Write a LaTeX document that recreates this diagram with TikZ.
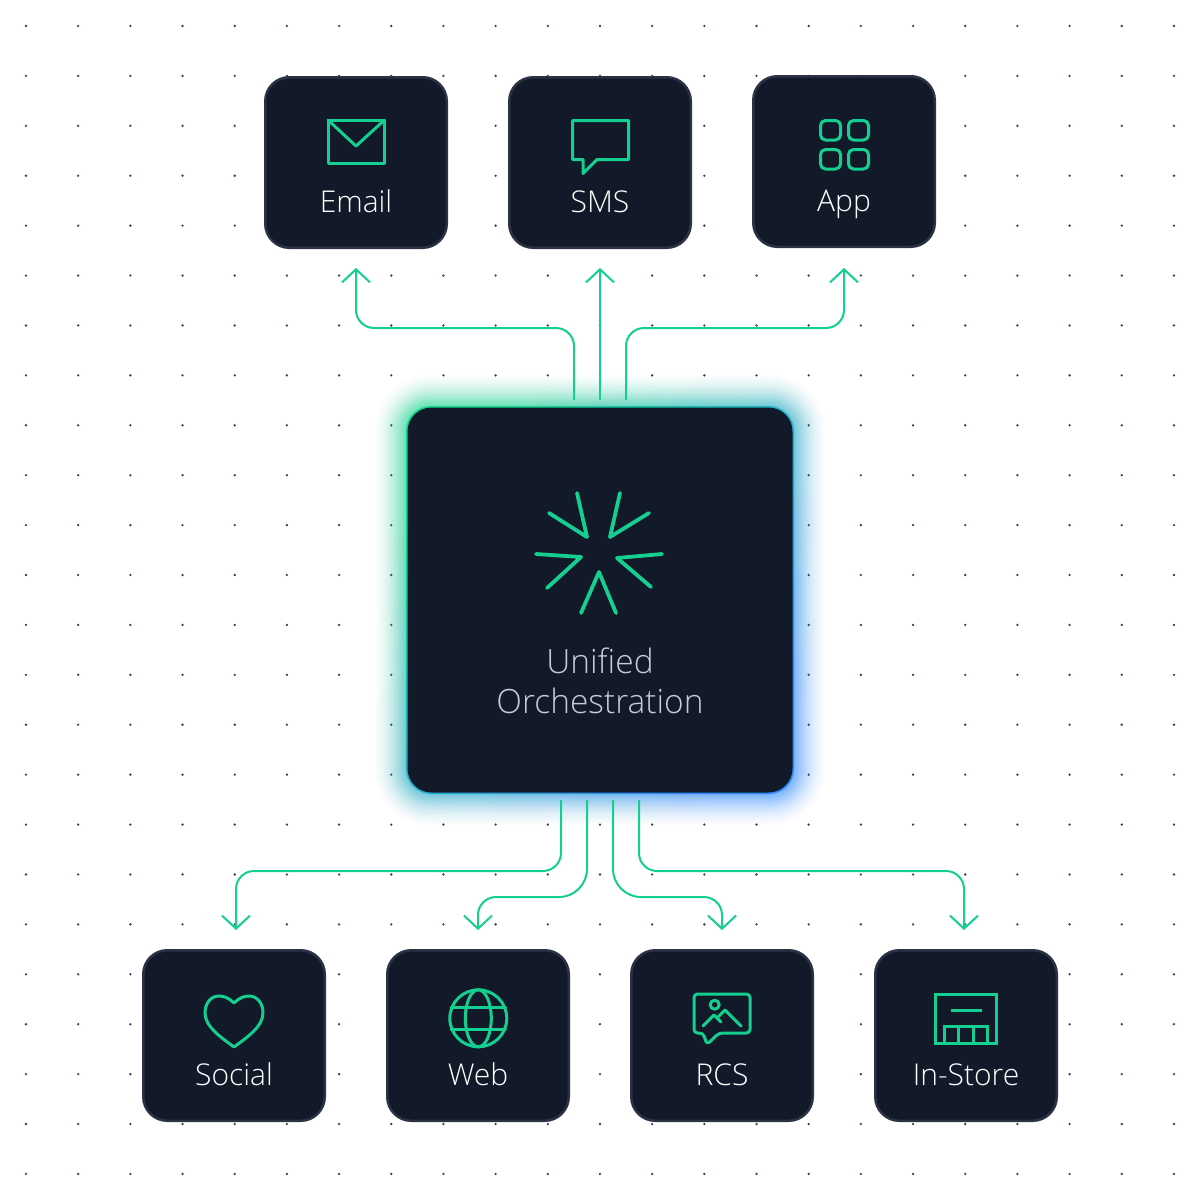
\documentclass[tikz,border=0pt]{standalone}
\usepackage{fontspec}
\setmainfont{Open Sans}[UprightFont=* Light]
\usetikzlibrary{arrows.meta,positioning}
\definecolor{boxdark}{HTML}{121929}
\definecolor{boxrim}{HTML}{2B3244}
\definecolor{flowgreen}{HTML}{14CF90}
\definecolor{glowgreen}{HTML}{14D68F}
\definecolor{glowmid}{HTML}{52CFDC}
\definecolor{glowblue}{HTML}{2E8BFF}
\definecolor{griddot}{HTML}{3C414D}
\definecolor{softtext}{HTML}{C4CAD6}

\begin{document}
\begin{tikzpicture}
	[x=1pt,y=-1pt,
	channel node/.style={shape=rectangle,draw=boxrim,line width=2.5pt,fill=boxdark,rounded corners=24pt,minimum width=181.5pt,minimum height=170.5pt,inner sep=0pt},
	hub node/.style={shape=rectangle,fill=boxdark,rounded corners=24pt,minimum width=385pt,minimum height=385pt,inner sep=0pt},
	channel label/.style={anchor=base,text=white,font=\fontsize{30}{30}\selectfont,inner sep=0pt},
	hub label/.style={anchor=base,text=softtext,font=\fontsize{33.5}{33.5}\selectfont,inner sep=0pt},
	flow/.style={draw=flowgreen,line width=2pt,rounded corners=18pt,-{Straight Barb[length=13pt,width=28pt,line width=2pt]}},
	icon/.style={draw=flowgreen,line width=3pt,line join=round,line cap=round}]
	\useasboundingbox (0,0) rectangle (1200,1200);
	\fill[white] (0,0) rectangle (1200,1200);

	\foreach \i in {0,...,22}
		\foreach \j in {0,...,23}
			\fill[griddot] (26+52.18*\i,26+49.91*\j) circle [radius=1.3];

	\foreach \r/\o in {32/.014,30/.017,28/.02,26/.023,24/.026,22/.032,20/.038,18/.045,16/.052,14/.06,12/.068,10/.08,8/.09,6/.1,4/.11,2/.12}
		\shade[top color=glowgreen,middle color=glowmid,bottom color=glowblue,shading angle=45,fill opacity=\o,rounded corners=24pt+\r pt]
		(407-\r,407-\r) rectangle (793+\r,793+\r);
	\shade[top color=glowgreen,middle color=glowmid,bottom color=glowblue,shading angle=45,rounded corners=25pt]
	(406,406) rectangle (794,794);

	\node [hub node] (hub) at (600,600) {};
	\node [hub label] (hub top) at (600,673) {Unified};
	\node [hub label] (hub bottom) at (600,713) {Orchestration};

	\node [channel node] (email) at (356,162.5) {};
	\node [channel node] (sms) at (600,162.5) {};
	\node [channel node] (app) at (844,161.5) {};
	\node [channel node] (social) at (234,1035.5) {};
	\node [channel node] (web) at (478,1035.5) {};
	\node [channel node] (rcs) at (722,1035.5) {};
	\node [channel node] (store) at (966,1035.5) {};

	\node [channel label] (email label) at (356,212) {Email};
	\node [channel label] (sms label) at (600,212) {SMS};
	\node [channel label] (app label) at (844,211) {App};
	\node [channel label] (social label) at (234,1085) {Social};
	\node [channel label] (web label) at (478,1085) {Web};
	\node [channel label] (rcs label) at (722,1085) {RCS};
	\node [channel label] (store label) at (966,1085) {In-Store};

	\coordinate (out email) at (574,400);
	\coordinate (out sms) at (600,400);
	\coordinate (out app) at (626,400);
	\coordinate (in email) at (356,268);
	\coordinate (in sms) at (600,268);
	\coordinate (in app) at (844,268);
	\coordinate (out social) at (561,800);
	\coordinate (out web) at (587,800);
	\coordinate (out rcs) at (613,800);
	\coordinate (out store) at (639,800);
	\coordinate (in social) at (236,930);
	\coordinate (in web) at (478,930);
	\coordinate (in rcs) at (722,930);
	\coordinate (in store) at (964,930);

	\draw[flow] (out email) -- (574,328) -- (356,328) -- (in email);
	\draw[flow] (out sms) -- (in sms);
	\draw[flow] (out app) -- (626,328) -- (844,328) -- (in app);
	\draw[flow] (out social) -- (561,871) -- (236,871) -- (in social);
	\draw[flow,rounded corners=28pt] (out web) -- (587,897) [rounded corners=18pt] -- (478,897) -- (in web);
	\draw[flow,rounded corners=28pt] (out rcs) -- (613,897) [rounded corners=18pt] -- (722,897) -- (in rcs);
	\draw[flow] (out store) -- (639,871) -- (964,871) -- (in store);

	\draw[icon] (328,120) rectangle (384.5,163);
	\draw[icon] (328,120) -- (356,146) -- (384.5,120);

	\draw[icon] (572.5,120.5) -- (628.5,120.5) -- (628.5,159.5) -- (597,159.5) -- (583,173.5) -- (583,159.5) -- (572.5,159.5) -- cycle;

	\foreach \a/\b in {820.5/120.5,848.5/120.5,820.5/149.5,848.5/149.5}
		\draw[icon,rounded corners=5pt] (\a,\b) rectangle (\a+20,\b+19.5);

	\draw[icon,line width=3.8pt] (577,493) -- (587,537) -- (549,513);
	\draw[icon,line width=3.8pt] (620,493) -- (610,537) -- (649,513);
	\draw[icon,line width=3.8pt] (536,554) -- (581,557) -- (547,588);
	\draw[icon,line width=3.8pt] (662,554) -- (617,558) -- (651,587);
	\draw[icon,line width=3.8pt] (581,613) -- (599,572) -- (616,613);

	\draw[icon] (234,1003) .. controls (229,998) and (224,996) .. (219,996) .. controls (211,996) and (205,1003) .. (205,1013) .. controls (205,1027) and (222,1038) .. (234,1047) .. controls (246,1038) and (263,1027) .. (263,1013) .. controls (263,1003) and (257,996) .. (249,996) .. controls (244,996) and (239,998) .. (234,1003) -- cycle;

	\draw[icon] (478.3,1018.3) circle [radius=28.5];
	\draw[icon] (478.3,1018.3) circle [x radius=13,y radius=28.5];
	\draw[icon] (451,1007.7) -- (505.5,1007.7);
	\draw[icon] (451,1029) -- (505.5,1029);

	\draw[icon,rounded corners=3.5pt] (694,994) -- (750,994) -- (750,1033) -- (719,1033) -- (707,1044.5) -- (703,1033) -- (694,1033) -- cycle;
	\draw[icon] (714.7,1004.7) circle [radius=4.5];
	\draw[icon] (703,1026) -- (714,1015) -- (721,1022);
	\draw[icon] (717,1018) -- (725,1010) -- (741,1026);

	\draw[icon,line join=miter] (935.5,994) rectangle (996.5,1043.5);
	\draw[icon,line cap=butt] (951,1010) -- (982,1010);
	\draw[icon,line cap=butt,line join=miter] (944.5,1043.5) -- (944.5,1026) -- (987.5,1026) -- (987.5,1043.5);
	\draw[icon,line cap=butt] (958.7,1026) -- (958.7,1043.5);
	\draw[icon,line cap=butt] (973.5,1026) -- (973.5,1043.5);
\end{tikzpicture}
\end{document}
